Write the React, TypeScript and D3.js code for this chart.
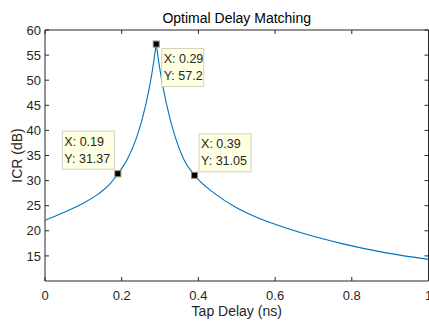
import React from "react";
import * as d3 from "d3";

// Curve samples
const tapDelay = [0, 0.05, 0.10, 0.14, 0.17, 0.19, 0.213, 0.239, 0.263, 0.278, 0.29, 0.301, 0.317, 0.339, 0.362, 0.39, 0.443, 0.495, 0.547, 0.6, 0.668, 0.777, 0.89, 1.0];
const icr = [22.1, 23.7, 25.5, 27.4, 29.4, 31.37, 34.0, 38.6, 45.2, 51.0, 57.2, 51.5, 45.2, 38.8, 34.2, 31.05, 27.4, 24.8, 22.85, 21.3, 19.6, 17.4, 15.6, 14.3];

// Data tips
const tipX = [0.19, 0.29, 0.39];
const tipY = [31.37, 57.2, 31.05];
const tipLabelX = ["0.19", "0.29", "0.39"];
const tipLabelY = ["31.37", "57.2", "31.05"];

const xTicks = [0, 0.2, 0.4, 0.6, 0.8, 1];
const xTickLabels = ["0", "0.2", "0.4", "0.6", "0.8", "1"];
const yTicks = [15, 20, 25, 30, 35, 40, 45, 50, 55, 60];

const W = 429, H = 321;
const FONT = "'Liberation Sans', Arial, Helvetica, sans-serif";
const INK = "#262626";
// layout for tip boxes: placement relative to marker and box width
const tipLayout = [
  { side: "upLeft", w: 52 },
  { side: "downRight", w: 42 },
  { side: "upRight", w: 52 },
];

export default function App() {
  const x = d3.scaleLinear().domain([0, 1]).range([45, 428.5]);
  const y = d3.scaleLinear().domain([10, 60]).range([281, 30]);
  const pts = tapDelay.map((t, i) => [t, icr[i]] as [number, number]);
  const peak = 0.29;
  const left = pts.filter((p) => p[0] <= peak);
  const right = pts.filter((p) => p[0] >= peak);
  const line = d3
    .line<[number, number]>()
    .x((d) => x(d[0]))
    .y((d) => y(d[1]))
    .curve(d3.curveMonotoneX);
  const [x0, x1] = x.range();
  const [yb, yt] = y.range();
  const tk = 4;
  return (
    <svg
      width={W}
      height={H}
      style={{ position: "fixed", left: 0, top: 0, background: "#fff" }}
      fontFamily={FONT}
    >
      <rect x={0} y={0} width={W} height={H} fill="#fff" />
      {/* ticks */}
      {xTicks.map((t, i) => (
        <g key={"xt" + i}>
          <line x1={x(t)} x2={x(t)} y1={yb} y2={yb - tk} stroke={INK} strokeWidth={1} />
          <line x1={x(t)} x2={x(t)} y1={yt} y2={yt + tk} stroke={INK} strokeWidth={1} />
          <text x={x(t)} y={299.5} fontSize={13} fill={INK} textAnchor="middle">
            {xTickLabels[i]}
          </text>
        </g>
      ))}
      {yTicks.map((t, i) => (
        <g key={"yt" + i}>
          <line x1={x0} x2={x0 + tk} y1={y(t)} y2={y(t)} stroke={INK} strokeWidth={1} />
          <line x1={x1} x2={x1 - tk} y1={y(t)} y2={y(t)} stroke={INK} strokeWidth={1} />
          <text x={41} y={y(t) + 4.6} fontSize={13} fill={INK} textAnchor="end">
            {t}
          </text>
        </g>
      ))}
      {/* box */}
      <line x1={x0} x2={x0} y1={yt} y2={yb} stroke={INK} strokeWidth={1} />
      <line x1={x0} x2={x1} y1={yb} y2={yb} stroke={INK} strokeWidth={1} />
      <line x1={x0} x2={x1} y1={yt} y2={yt} stroke={INK} strokeWidth={1} />
      <line x1={x1} x2={x1} y1={yt} y2={yb} stroke={INK} strokeWidth={1} />
      {/* curve */}
      <path d={line(left) || ""} fill="none" stroke="#0072BD" strokeWidth={1.1} />
      <path d={line(right) || ""} fill="none" stroke="#0072BD" strokeWidth={1.1} />
      {/* data tips */}
      {tipX.map((tx, i) => {
        const mx = x(tx);
        const my = y(tipY[i]);
        const L = tipLayout[i];
        const h = 38;
        let bx = 0, by = 0;
        if (L.side === "upLeft") { bx = mx - 4 - L.w; by = my - 5 - h; }
        else if (L.side === "downRight") { bx = mx + 5; by = my + 4; }
        else { bx = mx + 4; by = my - 4 - h; }
        return (
          <g key={"tip" + i}>
            <rect x={bx + 0.5} y={by + 0.5} width={L.w} height={h} fill="#FFFFE1" stroke="#d2d2c4" strokeWidth={1} />
            <text x={bx + 2.5} y={by + 15} fontSize={12.5} fill={INK}>{"X: " + tipLabelX[i]}</text>
            <text x={bx + 2.5} y={by + 32} fontSize={12.5} fill={INK}>{"Y: " + tipLabelY[i]}</text>
            <rect x={mx - 3} y={my - 3} width={6} height={6} fill="#000" stroke="#8c8a6e" strokeWidth={1} />
          </g>
        );
      })}
      {/* labels */}
      <text x={(x0 + x1) / 2} y={23} fontSize={14} fill="#000" textAnchor="middle">
        Optimal Delay Matching
      </text>
      <text x={(x0 + x1) / 2} y={315.5} fontSize={14} fill={INK} textAnchor="middle">
        Tap Delay (ns)
      </text>
      <text
        transform={`translate(22,${(yt + yb) / 2}) rotate(-90)`}
        fontSize={14}
        fill={INK}
        textAnchor="middle"
      >
        ICR (dB)
      </text>
    </svg>
  );
}
